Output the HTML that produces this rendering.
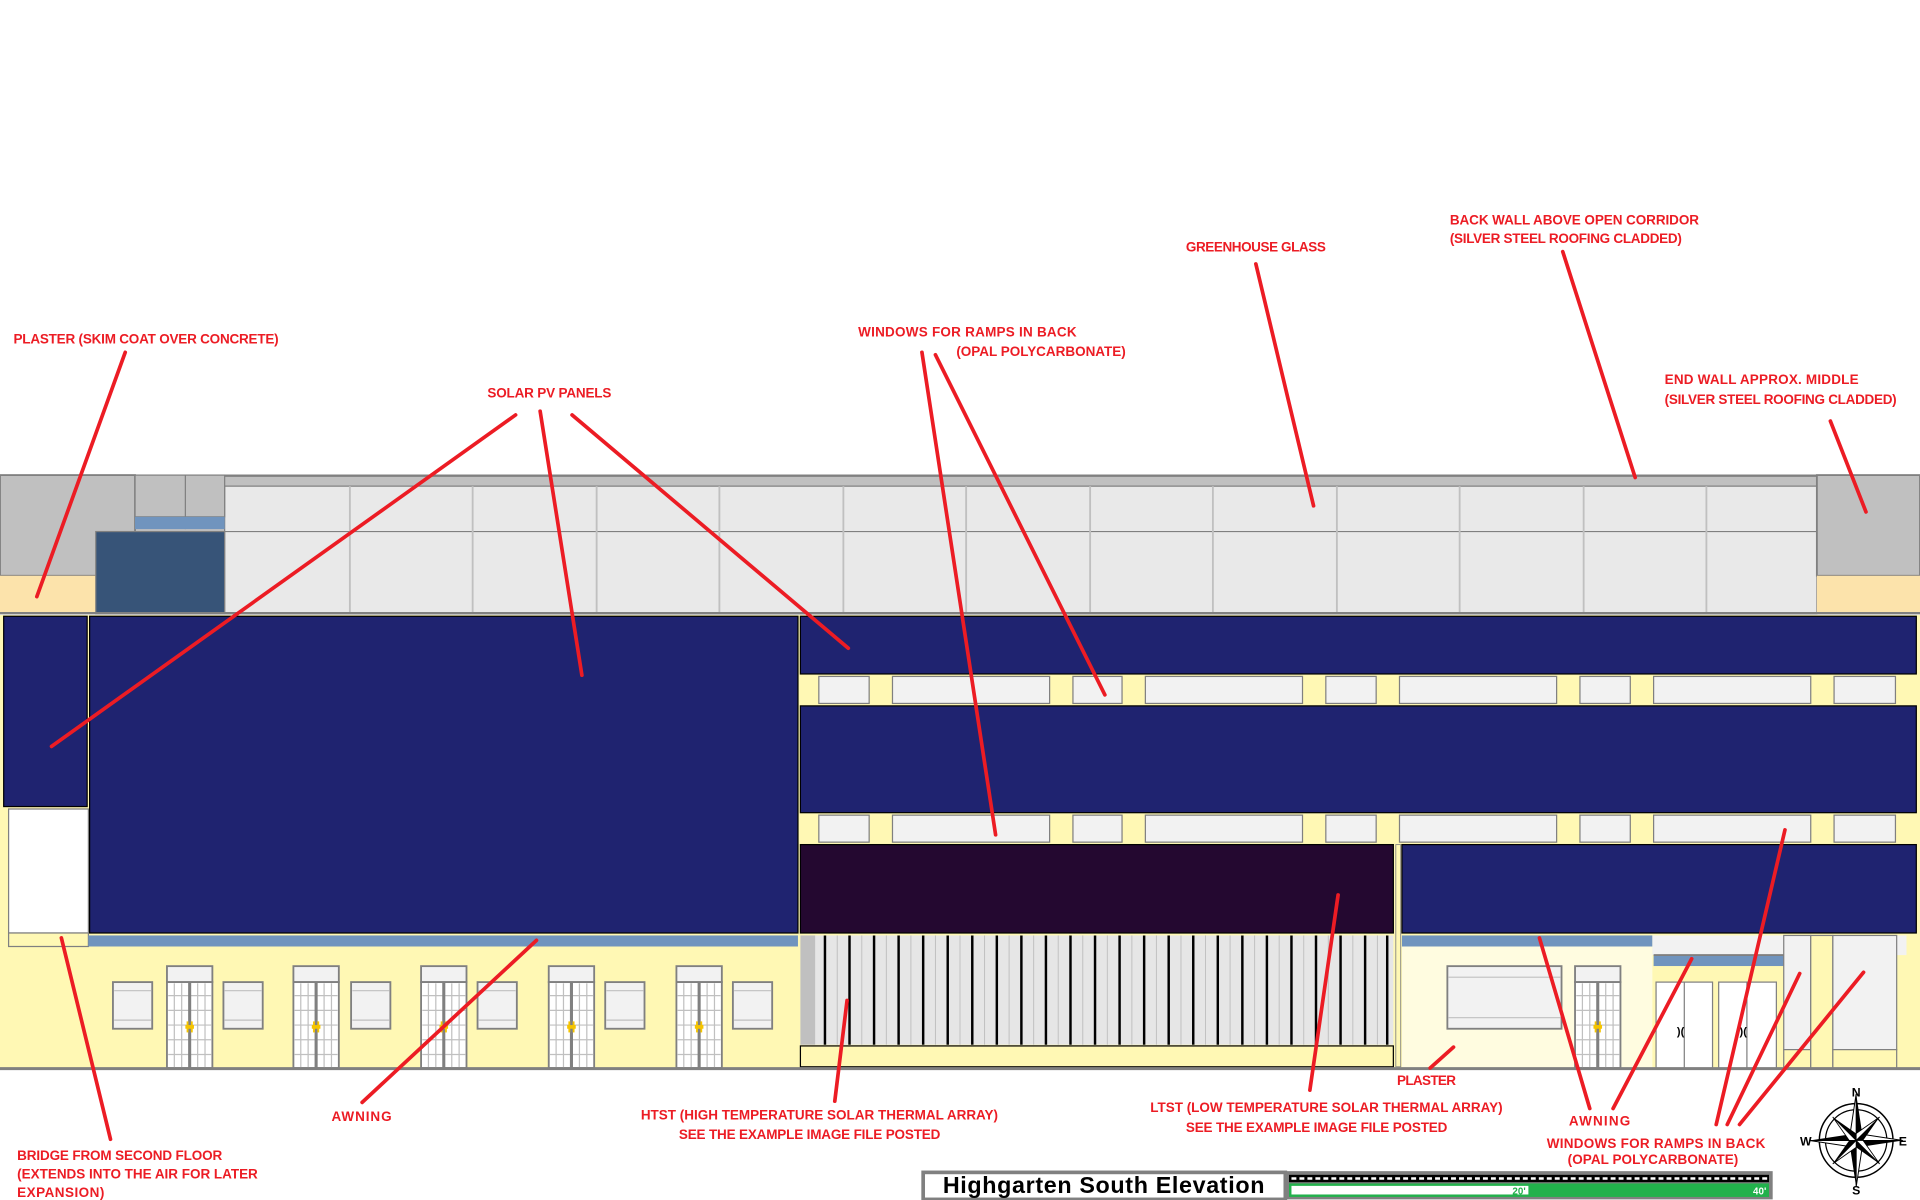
<!DOCTYPE html>
<html><head><meta charset="utf-8"><style>
html,body{margin:0;padding:0;background:#fff;}
svg{display:block;}
.l{font-family:"Liberation Sans Narrow","Liberation Sans",sans-serif;font-weight:bold;font-size:11px;fill:#ec1c24;}
.r{stroke:#ec1c24;stroke-width:3;stroke-linecap:round;}
</style></head><body>
<svg width="1920" height="1200" viewBox="0 0 1564 977.5" preserveAspectRatio="none" xmlns="http://www.w3.org/2000/svg">
<defs>
<g id="door">
 <rect x="0" y="0" width="37" height="13" fill="#f2f2f2" stroke="#808080" stroke-width="1.5"/>
 <rect x="0" y="13" width="37" height="70" fill="#fff" stroke="#808080" stroke-width="1.5"/>
 <g stroke="#c0c0c0" stroke-width="1">
  <line x1="6" y1="14" x2="6" y2="83"/><line x1="12" y1="14" x2="12" y2="83"/><line x1="25" y1="14" x2="25" y2="83"/><line x1="31" y1="14" x2="31" y2="83"/>
  <line x1="1" y1="24" x2="36" y2="24"/><line x1="1" y1="36" x2="36" y2="36"/><line x1="1" y1="48" x2="36" y2="48"/><line x1="1" y1="60" x2="36" y2="60"/><line x1="1" y1="72" x2="36" y2="72"/>
 </g>
 <line x1="18.5" y1="13" x2="18.5" y2="83" stroke="#808080" stroke-width="2.5"/>
 <rect x="15" y="48" width="7" height="3" fill="#f5c400"/>
 <rect x="16" y="45" width="1.5" height="9" fill="#f5c400"/><rect x="19.5" y="45" width="1.5" height="9" fill="#f5c400"/>
</g>
<g id="win">
 <rect x="0" y="0" width="32" height="38" fill="#f2f2f2" stroke="#808080" stroke-width="1.5"/>
 <line x1="1" y1="7" x2="31" y2="7" stroke="#c0c0c0"/><line x1="1" y1="31" x2="31" y2="31" stroke="#c0c0c0"/>
</g>
</defs>

<rect x="0" y="387" width="1564" height="113" fill="#c0c0c0"/>
<line x1="0" y1="387.5" x2="1564" y2="387.5" stroke="#808080" stroke-width="2"/>
<rect x="183" y="396" width="1297" height="104" fill="#e9e9e9" stroke="#808080" stroke-width="1"/>
<line x1="183" y1="433" x2="1480" y2="433" stroke="#808080" stroke-width="1"/>
<g stroke="#c0c0c0" stroke-width="1.5">
<line x1="285" y1="396" x2="285" y2="500"/><line x1="385" y1="396" x2="385" y2="500"/><line x1="486" y1="396" x2="486" y2="500"/><line x1="586" y1="396" x2="586" y2="500"/><line x1="687" y1="396" x2="687" y2="500"/><line x1="787" y1="396" x2="787" y2="500"/><line x1="888" y1="396" x2="888" y2="500"/><line x1="988" y1="396" x2="988" y2="500"/><line x1="1089" y1="396" x2="1089" y2="500"/><line x1="1189" y1="396" x2="1189" y2="500"/><line x1="1290" y1="396" x2="1290" y2="500"/><line x1="1390" y1="396" x2="1390" y2="500"/>
</g>
<rect x="0" y="387" width="110" height="82" fill="#c0c0c0" stroke="#808080" stroke-width="1.5"/>
<rect x="0" y="469" width="78" height="31" fill="#fce3ab"/>
<rect x="110" y="387" width="73" height="34" fill="#c0c0c0" stroke="#808080" stroke-width="1"/>
<line x1="151" y1="387" x2="151" y2="431" stroke="#808080"/>
<rect x="110" y="421" width="73" height="10" fill="#7094be"/>
<rect x="78" y="433" width="105" height="67" fill="#375478" stroke="#808080" stroke-width="1"/>
<rect x="1480" y="387" width="84" height="82" fill="#c0c0c0" stroke="#808080" stroke-width="1.5"/>
<rect x="1480" y="469" width="84" height="31" fill="#fce3ab"/>
<line x1="0" y1="499.5" x2="1564" y2="499.5" stroke="#808080" stroke-width="2"/>

<rect x="0" y="501" width="1564" height="369" fill="#fff8b4"/>
<rect x="3" y="502" width="68" height="155" fill="#1f2370" stroke="#000" stroke-width="1"/>
<rect x="7" y="659" width="65" height="101" fill="#fff" stroke="#808080" stroke-width="1"/>
<rect x="7" y="760" width="65" height="11" fill="#fff8b4" stroke="#808080" stroke-width="1"/>
<rect x="73" y="502" width="577" height="258" fill="#1f2370" stroke="#000" stroke-width="1"/>
<rect x="72" y="762" width="578" height="9" fill="#7094be"/>
<use href="#door" x="136" y="787"/><use href="#door" x="239" y="787"/><use href="#door" x="343" y="787"/><use href="#door" x="447" y="787"/><use href="#door" x="551" y="787"/>
<use href="#win" x="92" y="800"/><use href="#win" x="182" y="800"/><use href="#win" x="286" y="800"/><use href="#win" x="389" y="800"/><use href="#win" x="493" y="800"/><use href="#win" x="597" y="800"/>

<rect x="652" y="502" width="909" height="47" fill="#1f2370" stroke="#000" stroke-width="1"/>
<rect x="652" y="575" width="909" height="87" fill="#1f2370" stroke="#000" stroke-width="1"/>
<g fill="#f2f2f2" stroke="#808080" stroke-width="1">
<rect x="667" y="551" width="41" height="22"/><rect x="727" y="551" width="128" height="22"/><rect x="874" y="551" width="40" height="22"/><rect x="933" y="551" width="128" height="22"/><rect x="1080" y="551" width="41" height="22"/><rect x="1140" y="551" width="128" height="22"/><rect x="1287" y="551" width="41" height="22"/><rect x="1347" y="551" width="128" height="22"/><rect x="1494" y="551" width="50" height="22"/>
<rect x="667" y="664" width="41" height="22"/><rect x="727" y="664" width="128" height="22"/><rect x="874" y="664" width="40" height="22"/><rect x="933" y="664" width="128" height="22"/><rect x="1080" y="664" width="41" height="22"/><rect x="1140" y="664" width="128" height="22"/><rect x="1287" y="664" width="41" height="22"/><rect x="1347" y="664" width="128" height="22"/><rect x="1494" y="664" width="50" height="22"/>
</g>
<rect x="652" y="688" width="483" height="72" fill="#240830" stroke="#000" stroke-width="1"/>
<rect x="652" y="762" width="483" height="89" fill="#e6e6e6"/>
<rect x="652" y="762" width="12" height="89" fill="#c0c0c0"/>
<g stroke="#c0c0c0" stroke-width="0.8">
<line x1="682" y1="762" x2="682" y2="851"/><line x1="702" y1="762" x2="702" y2="851"/><line x1="722" y1="762" x2="722" y2="851"/><line x1="742" y1="762" x2="742" y2="851"/><line x1="762" y1="762" x2="762" y2="851"/><line x1="782" y1="762" x2="782" y2="851"/><line x1="802" y1="762" x2="802" y2="851"/><line x1="822" y1="762" x2="822" y2="851"/><line x1="842" y1="762" x2="842" y2="851"/><line x1="862" y1="762" x2="862" y2="851"/><line x1="882" y1="762" x2="882" y2="851"/><line x1="902" y1="762" x2="902" y2="851"/><line x1="922" y1="762" x2="922" y2="851"/><line x1="942" y1="762" x2="942" y2="851"/><line x1="962" y1="762" x2="962" y2="851"/><line x1="982" y1="762" x2="982" y2="851"/><line x1="1002" y1="762" x2="1002" y2="851"/><line x1="1022" y1="762" x2="1022" y2="851"/><line x1="1042" y1="762" x2="1042" y2="851"/><line x1="1062" y1="762" x2="1062" y2="851"/><line x1="1082" y1="762" x2="1082" y2="851"/><line x1="1102" y1="762" x2="1102" y2="851"/><line x1="1122" y1="762" x2="1122" y2="851"/>
</g>
<g stroke="#000" stroke-width="2">
<line x1="672" y1="762" x2="672" y2="851"/><line x1="692" y1="762" x2="692" y2="851"/><line x1="712" y1="762" x2="712" y2="851"/><line x1="732" y1="762" x2="732" y2="851"/><line x1="752" y1="762" x2="752" y2="851"/><line x1="772" y1="762" x2="772" y2="851"/><line x1="792" y1="762" x2="792" y2="851"/><line x1="812" y1="762" x2="812" y2="851"/><line x1="832" y1="762" x2="832" y2="851"/><line x1="852" y1="762" x2="852" y2="851"/><line x1="872" y1="762" x2="872" y2="851"/><line x1="892" y1="762" x2="892" y2="851"/><line x1="912" y1="762" x2="912" y2="851"/><line x1="932" y1="762" x2="932" y2="851"/><line x1="952" y1="762" x2="952" y2="851"/><line x1="972" y1="762" x2="972" y2="851"/><line x1="992" y1="762" x2="992" y2="851"/><line x1="1012" y1="762" x2="1012" y2="851"/><line x1="1032" y1="762" x2="1032" y2="851"/><line x1="1052" y1="762" x2="1052" y2="851"/><line x1="1072" y1="762" x2="1072" y2="851"/><line x1="1092" y1="762" x2="1092" y2="851"/><line x1="1112" y1="762" x2="1112" y2="851"/><line x1="1130" y1="762" x2="1130" y2="851"/>
</g>
<rect x="652" y="852" width="483" height="17" fill="#fff8b4" stroke="#000" stroke-width="1"/>
<rect x="1137" y="688" width="4" height="181" fill="#fff8b4" stroke="#808080" stroke-width="0.7"/>
<rect x="1142" y="688" width="419" height="72" fill="#1f2370" stroke="#000" stroke-width="1"/>
<rect x="1142" y="762" width="204" height="9" fill="#7094be"/>
<rect x="1142" y="771" width="204" height="99" fill="#fffce0"/>
<rect x="1179" y="787" width="93" height="51" fill="#f2f2f2" stroke="#808080" stroke-width="1.5"/>
<line x1="1180" y1="796" x2="1271" y2="796" stroke="#c0c0c0"/><line x1="1180" y1="829" x2="1271" y2="829" stroke="#c0c0c0"/>
<use href="#door" x="1283" y="787"/>
<rect x="1346" y="762" width="207" height="16" fill="#f2f2f2"/>
<rect x="1347" y="778" width="106" height="9" fill="#7094be"/>
<line x1="1347" y1="778" x2="1453" y2="778" stroke="#808080" stroke-width="1.5"/>
<rect x="1347" y="787" width="106" height="83" fill="#fff8b4"/>
<g fill="#fff" stroke="#808080" stroke-width="1">
<rect x="1349" y="800" width="46" height="70"/><rect x="1400" y="800" width="47" height="70"/>
</g>
<line x1="1372" y1="800" x2="1372" y2="870" stroke="#808080"/><line x1="1423" y1="800" x2="1423" y2="870" stroke="#808080"/>
<text x="1366" y="843" font-family="Liberation Sans" font-size="9" font-weight="bold">)(</text>
<text x="1417" y="843" font-family="Liberation Sans" font-size="9" font-weight="bold">)(</text>
<rect x="1453" y="762" width="22" height="93" fill="#f2f2f2" stroke="#808080" stroke-width="1"/>
<rect x="1453" y="855" width="22" height="15" fill="#fff8b4" stroke="#808080" stroke-width="1"/>
<rect x="1475" y="762" width="18" height="108" fill="#fff8b4" stroke="#808080" stroke-width="1"/>
<rect x="1493" y="762" width="52" height="93" fill="#f2f2f2" stroke="#808080" stroke-width="1"/>
<rect x="1493" y="855" width="52" height="15" fill="#fff8b4" stroke="#808080" stroke-width="1"/>
<line x1="0" y1="870.5" x2="1564" y2="870.5" stroke="#808080" stroke-width="2.5"/>

<text class="l" x="11" y="280" textLength="216">PLASTER (SKIM COAT OVER CONCRETE)</text>
<text class="l" x="397" y="324" textLength="101">SOLAR PV PANELS</text>
<text class="l" x="699" y="274" textLength="178">WINDOWS FOR RAMPS IN BACK</text>
<text class="l" x="779" y="290" textLength="138">(OPAL POLYCARBONATE)</text>
<text class="l" x="966" y="205" textLength="114">GREENHOUSE GLASS</text>
<text class="l" x="1181" y="183" textLength="203">BACK WALL ABOVE OPEN CORRIDOR</text>
<text class="l" x="1181" y="198" textLength="189">(SILVER STEEL ROOFING CLADDED)</text>
<text class="l" x="1356" y="313" textLength="158">END WALL APPROX. MIDDLE</text>
<text class="l" x="1356" y="329" textLength="189">(SILVER STEEL ROOFING CLADDED)</text>
<text class="l" x="14" y="945" textLength="167">BRIDGE FROM SECOND FLOOR</text>
<text class="l" x="14" y="960" textLength="196">(EXTENDS INTO THE AIR FOR LATER</text>
<text class="l" x="14" y="975" textLength="71">EXPANSION)</text>
<text class="l" x="270" y="913" textLength="49">AWNING</text>
<text class="l" x="522" y="912" textLength="291">HTST (HIGH TEMPERATURE SOLAR THERMAL ARRAY)</text>
<text class="l" x="553" y="928" textLength="213">SEE THE EXAMPLE IMAGE FILE POSTED</text>
<text class="l" x="937" y="906" textLength="287">LTST (LOW TEMPERATURE SOLAR THERMAL ARRAY)</text>
<text class="l" x="966" y="922" textLength="213">SEE THE EXAMPLE IMAGE FILE POSTED</text>
<text class="l" x="1138" y="884" textLength="48">PLASTER</text>
<text class="l" x="1278" y="917" textLength="50">AWNING</text>
<text class="l" x="1260" y="935" textLength="178">WINDOWS FOR RAMPS IN BACK</text>
<text class="l" x="1277" y="948" textLength="139">(OPAL POLYCARBONATE)</text>

<g class="r">
<line x1="102" y1="287" x2="30" y2="486"/>
<line x1="420" y1="338" x2="42" y2="608"/>
<line x1="440" y1="335" x2="474" y2="550"/>
<line x1="466" y1="338" x2="691" y2="528"/>
<line x1="751" y1="287" x2="811" y2="680"/>
<line x1="762" y1="289" x2="900" y2="566"/>
<line x1="1023" y1="215" x2="1070" y2="412"/>
<line x1="1273" y1="205" x2="1332" y2="389"/>
<line x1="1491" y1="343" x2="1520" y2="417"/>
<line x1="50" y1="764" x2="90" y2="928"/>
<line x1="295" y1="898" x2="437" y2="766"/>
<line x1="680" y1="897" x2="690" y2="815"/>
<line x1="1067" y1="888" x2="1090" y2="729"/>
<line x1="1165" y1="870" x2="1184" y2="853"/>
<line x1="1295" y1="903" x2="1254" y2="764"/>
<line x1="1314" y1="903" x2="1378" y2="781"/>
<line x1="1398" y1="916" x2="1454" y2="676"/>
<line x1="1407" y1="916" x2="1466" y2="793"/>
<line x1="1417" y1="916" x2="1518" y2="792"/>
</g>

<rect x="752" y="955" width="295" height="22" fill="#fff" stroke="#808080" stroke-width="3"/>
<text x="899" y="972" text-anchor="middle" style="font-family:'Liberation Sans Narrow','Liberation Sans',sans-serif;font-weight:bold;font-size:19px;" textLength="262">Highgarten South Elevation</text>
<rect x="1047" y="954" width="397" height="23" fill="#808080"/>
<rect x="1050" y="957" width="391" height="6" fill="#000"/>
<line x1="1052" y1="960" x2="1440" y2="960" stroke="#fff" stroke-width="2" stroke-dasharray="4,2.5"/>
<rect x="1050" y="964" width="391" height="11" fill="#22b14c"/>
<rect x="1052" y="966" width="193" height="7" fill="#fff"/>
<text x="1232" y="973" font-family="Liberation Sans" font-size="8" font-weight="bold" fill="#22b14c">20'</text>
<text x="1428" y="973" font-family="Liberation Sans" font-size="8" font-weight="bold" fill="#fff">40'</text>

<g transform="translate(1512,929)">
<circle r="30" fill="none" stroke="#000" stroke-width="1.2"/>
<circle r="25" fill="none" stroke="#000" stroke-width="1"/>
<polygon points="0,-38 5,-5 0,0" fill="#000"/><polygon points="0,-38 -5,-5 0,0" fill="#fff" stroke="#000" stroke-width="0.8"/>
<polygon points="0,38 -5,5 0,0" fill="#000"/><polygon points="0,38 5,5 0,0" fill="#fff" stroke="#000" stroke-width="0.8"/>
<polygon points="38,0 5,5 0,0" fill="#000"/><polygon points="38,0 5,-5 0,0" fill="#fff" stroke="#000" stroke-width="0.8"/>
<polygon points="-38,0 -5,-5 0,0" fill="#000"/><polygon points="-38,0 -5,5 0,0" fill="#fff" stroke="#000" stroke-width="0.8"/>
<g transform="rotate(45)">
<polygon points="0,-27 4,-4 0,0" fill="#000"/><polygon points="0,-27 -4,-4 0,0" fill="#fff" stroke="#000" stroke-width="0.7"/>
<polygon points="0,27 -4,4 0,0" fill="#000"/><polygon points="0,27 4,4 0,0" fill="#fff" stroke="#000" stroke-width="0.7"/>
<polygon points="27,0 4,4 0,0" fill="#000"/><polygon points="27,0 4,-4 0,0" fill="#fff" stroke="#000" stroke-width="0.7"/>
<polygon points="-27,0 -4,-4 0,0" fill="#000"/><polygon points="-27,0 -4,4 0,0" fill="#fff" stroke="#000" stroke-width="0.7"/>
</g>
<g font-family="Liberation Sans" font-size="10" font-weight="bold" text-anchor="middle">
<text x="0" y="-36">N</text><text x="0" y="44">S</text><text x="-41" y="4">W</text><text x="38" y="4">E</text>
</g>
</g>
</svg>
</body></html>
